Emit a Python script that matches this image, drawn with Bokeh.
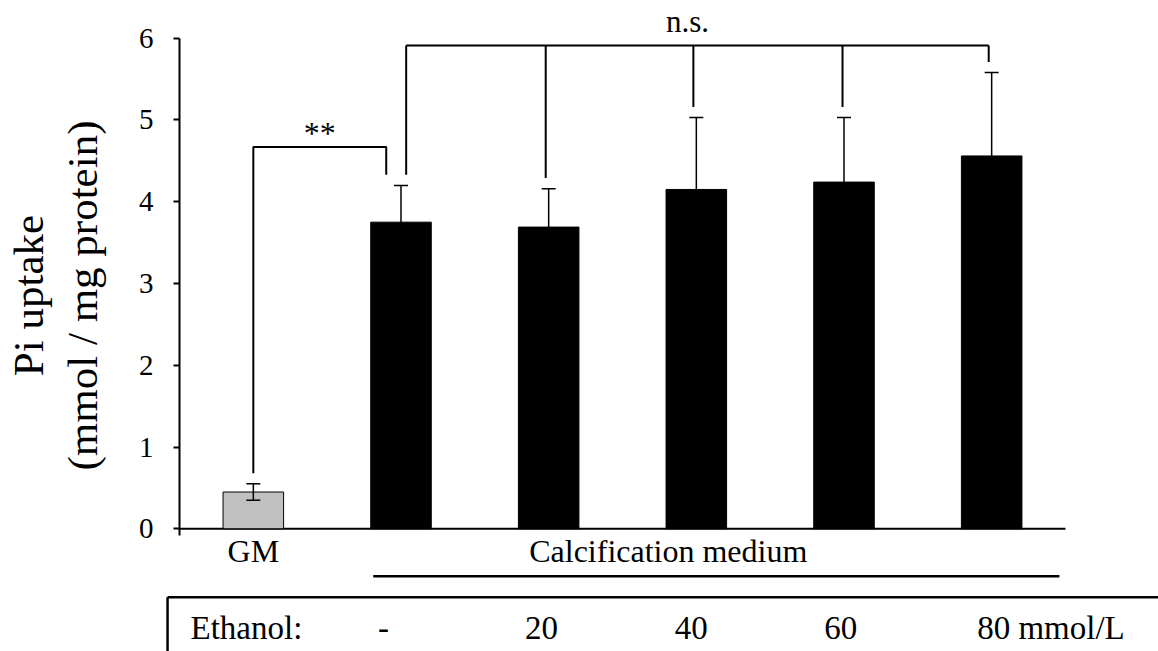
from bokeh.plotting import figure
from bokeh.layouts import column
from bokeh.models import (Range1d, LinearAxis, FixedTicker, ColumnDataSource,
                          Whisker, TeeHead)
from bokeh.core.properties import value
from bokeh.embed import file_html
from bokeh.resources import INLINE

# ---- data -------------------------------------------------------------
groups = ["GM", "CM", "CM+EtOH20", "CM+EtOH40", "CM+EtOH60", "CM+EtOH80"]
uptake = [0.45, 3.75, 3.69, 4.15, 4.24, 4.56]      # mmol / mg protein
sd = [0.10, 0.45, 0.47, 0.88, 0.79, 1.02]
bar_colors = ["#c0c0c0", "black", "black", "black", "black", "black"]
y_ticks = [0, 1, 2, 3, 4, 5, 6]
ethanol_labels = ["-", "20", "40", "60", "80 mmol/L"]
medium_labels = ["GM", "Calcification medium"]
sig_labels = ["**", "n.s."]

FONT = "'Liberation Serif', 'Times New Roman', serif"

xs = list(range(len(groups)))
lower = [m - e for m, e in zip(uptake, sd)]
upper = [m + e for m, e in zip(uptake, sd)]

src = ColumnDataSource(dict(x=xs, top=uptake, lower=lower, upper=upper,
                            color=bar_colors))


def txt(fig, xs_, ys_, texts, size, align="center"):
    fig.text(x=xs_, y=ys_, text=texts, text_font=value(FONT),
             text_font_size=size, text_align=align,
             text_baseline="alphabetic", text_color="black")


# ---- main chart ---------------------------------------------------------
p = figure(width=1158, height=590,
           x_range=Range1d(-0.5, 6.1298), y_range=Range1d(-0.7546, 6.461),
           x_axis_type=None, y_axis_type=None,
           toolbar_location=None, output_backend="svg",
           min_border_left=179, min_border_right=0,
           min_border_top=0, min_border_bottom=0)
p.outline_line_color = None
p.background_fill_color = "white"
p.border_fill_color = "white"
p.frame_align = False

yaxis = LinearAxis(ticker=FixedTicker(ticks=y_ticks), bounds=(-0.08, 6))
yaxis.axis_label = "Pi uptake\n(mmol / mg protein)"
yaxis.axis_label_text_font = FONT
yaxis.axis_label_text_font_size = "43px"
yaxis.axis_label_text_font_style = "normal"
yaxis.axis_label_text_color = "black"
yaxis.axis_label_text_line_height = 1.15
yaxis.axis_label_standoff = 30
yaxis.axis_line_width = 2
yaxis.axis_line_color = "black"
yaxis.major_tick_line_width = 2
yaxis.major_tick_out = 6
yaxis.major_tick_in = 0
yaxis.minor_tick_out = 0
yaxis.major_label_text_font = FONT
yaxis.major_label_text_font_size = "29px"
yaxis.major_label_text_color = "black"
yaxis.major_label_standoff = 20
p.add_layout(yaxis, "left")

# category axis line
p.segment(x0=[-0.5], y0=[0], x1=[5.5], y1=[0], line_color="black", line_width=2)

# bars
p.vbar(x="x", top="top", width=0.41, bottom=0, source=src,
       fill_color="color", line_color="black", line_width=1)

# error bars
head = dict(size=14, line_color="black", line_width=1.5)
err = Whisker(source=src, base="x", lower="lower", upper="upper",
              line_color="black", line_width=1.5,
              upper_head=TeeHead(**head), lower_head=TeeHead(**head),
              level="overlay")
p.add_layout(err)

# significance brackets
gap = 0.13
b1_y = 4.67
b1_x = [0, 0.90]
b1_bottom = [upper[0] + gap, upper[1] + gap]
p.line(x=[b1_x[0], b1_x[0], b1_x[1], b1_x[1]],
       y=[b1_bottom[0], b1_y, b1_y, b1_bottom[1]],
       line_color="black", line_width=2)
txt(p, [sum(b1_x) / 2], [4.84], [sig_labels[0]], "32px")

b2_y = 5.91
b2_x = [1.035, 1.98, 2.98, 3.99, 4.98]
b2_bottom = [u + gap for u in upper[1:]]
p.segment(x0=[b2_x[0]], y0=[b2_y], x1=[b2_x[-1]], y1=[b2_y],
          line_color="black", line_width=2)
p.segment(x0=b2_x, y0=b2_bottom, x1=b2_x, y1=[b2_y] * len(b2_x),
          line_color="black", line_width=2)
txt(p, [2.94], [6.20], [sig_labels[1]], "31px")

# medium labels under the axis
txt(p, [0.0, 2.81], [-0.27, -0.27], medium_labels, "32px")
p.segment(x0=[0.812], y0=[-0.58], x1=[5.459], y1=[-0.58],
          line_color="black", line_width=2.5)

# ---- ethanol concentration row -------------------------------------------
q = figure(width=1158, height=61,
           x_range=Range1d(-1.7122, 6.1298), y_range=Range1d(-1.5006, -0.7546),
           x_axis_type=None, y_axis_type=None,
           toolbar_location=None, output_backend="svg",
           min_border_left=0, min_border_right=0,
           min_border_top=0, min_border_bottom=0)
q.outline_line_color = None
q.background_fill_color = "white"
q.border_fill_color = "white"
q.frame_align = False

q.segment(x0=[-0.581, -0.581], y0=[-0.836, -0.836], x1=[6.3, -0.581],
          y1=[-0.836, -1.7], line_color="black", line_width=2.5)
row_y = -1.214
txt(q, [-0.4255], [row_y], ["Ethanol:"], "33px", align="left")
txt(q, [0.881, 1.951, 2.965, 3.978], [row_y] * 4, ethanol_labels[:4], "33px")
txt(q, [4.902], [row_y], ethanol_labels[4:], "33px", align="left")

layout = column(p, q, spacing=0)
open("out.html", "w").write(file_html(layout, INLINE))
